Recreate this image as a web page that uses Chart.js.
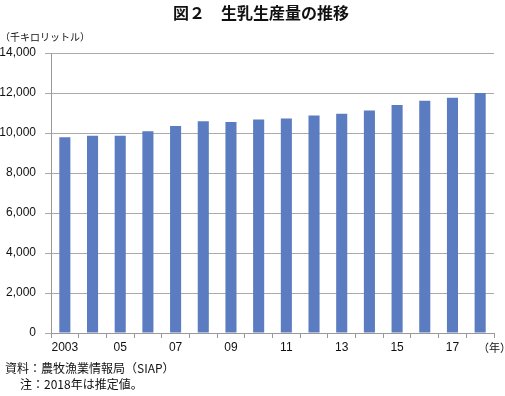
<!DOCTYPE html>
<html>
<head>
<meta charset="utf-8">
<script src="https://cdn.jsdelivr.net/npm/chart.js@4.4.1/dist/chart.umd.min.js"></script>
<style>
  html, body { margin: 0; padding: 0; background: #fff; }
  #wrap { width: 505px; height: 396px; position: relative; }
</style>
</head>
<body>
<div id="wrap"><canvas id="c" width="505" height="396"></canvas></div>
<script>
const years = ["2003","2004","2005","2006","2007","2008","2009","2010","2011","2012","2013","2014","2015","2016","2017","2018"];
const xTickLabels = ["2003","","05","","07","","09","","11","","13","","15","","17",""];
const production = [9784, 9864, 9868, 10089, 10346, 10589, 10549, 10677, 10724, 10881, 10966, 11130, 11394, 11608, 11768, 12005];
const yTicks = [0, 2000, 4000, 6000, 8000, 10000, 12000, 14000];

const jp = '"Noto Sans CJK JP", sans-serif';
const num = '"Liberation Sans", Arial, sans-serif';

// title, unit and notes drawn onto the canvas
const textPlugin = {
  id: "texts",
  afterDraw(chart) {
    const ctx = chart.ctx;
    ctx.save();
    ctx.fillStyle = "#111";
    ctx.textBaseline = "middle";
    ctx.font = "bold 16px " + jp;
    ctx.textAlign = "center";
    ctx.fillText("図２　生乳生産量の推移", 261, 13);
    ctx.textAlign = "left";
    ctx.font = "10px " + jp;
    ctx.fillText("（千キロリットル）", 0, 37);
    ctx.font = "11px " + jp;
    ctx.fillText("（年）", 478, 348);
    ctx.font = "12px " + jp;
    ctx.fillText("資料：農牧漁業情報局（SIAP）", 5, 368);
    ctx.fillText("注：2018年は推定値。", 20, 384);
    ctx.restore();
  }
};

new Chart(document.getElementById("c"), {
  type: "bar",
  data: {
    labels: years,
    datasets: [{ data: production, backgroundColor: "#5b7cc0", barPercentage: 0.4, categoryPercentage: 1 }]
  },
  options: {
    responsive: false,
    animation: false,
    layout: { padding: { top: 53, right: 11, left: 0, bottom: 0 } },
    plugins: { legend: { display: false }, tooltip: { enabled: false } },
    scales: {
      x: {
        offset: true,
        grid: { offset: true, drawOnChartArea: false, drawTicks: true, tickLength: 5, color: "#999" },
        border: { color: "#999" },
        ticks: {
          autoSkip: false, maxRotation: 0, padding: 2, color: "#111",
          font: { family: num, size: 12 },
          callback: (v, i) => xTickLabels[i]
        },
        afterFit: s => { s.height = 63; }
      },
      y: {
        min: 0, max: 14000,
        afterBuildTicks: s => { s.ticks = yTicks.map(v => ({ value: v })); },
        grid: { color: "#aaa", tickLength: 6 },
        border: { color: "#999" },
        ticks: {
          padding: 9, color: "#111",
          font: { family: num, size: 12 },
          callback: v => v.toLocaleString("en-US")
        },
        afterFit: s => { s.width = 51; }
      }
    }
  },
  plugins: [textPlugin]
});
</script>
</body>
</html>
